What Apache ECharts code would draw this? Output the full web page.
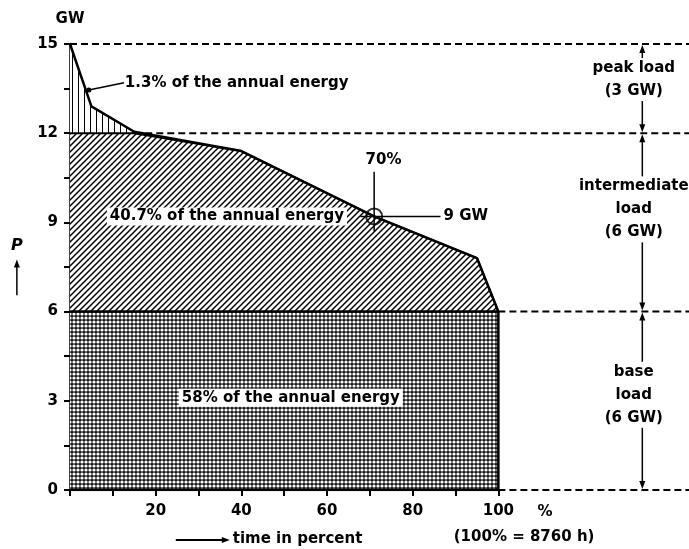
<!doctype html>
<html>
<head>
<meta charset="utf-8">
<script src="https://cdn.jsdelivr.net/npm/echarts@6/dist/echarts.min.js"></script>
<style>
    html, body {margin: 0; background: #fff;}
    #chart {width: 689px; height: 549px;}
</style>
</head>
<body>
<div id="chart"></div>
<script>
    // load duration curve (time in % of year, power in GW)
    var timePct = [0, 5, 15, 40, 71, 95, 100];
    var loadGW = [15, 12.9, 12.05, 11.4, 9.2, 7.8, 6.0];
    var baseGW = 6, intermediateTop = 12;
    var xTicks = [0, 10, 20, 30, 40, 50, 60, 70, 80, 90, 100];
    var xLabels = [20, 40, 60, 80, 100];
    var yTicks = [0, 1.5, 3, 4.5, 6, 7.5, 9, 10.5, 12, 13.5, 15];
    var yLabels = [0, 3, 6, 9, 12, 15];
    // dashed levels and where they start
    var levels = [15, 12, 6, 0];
    var levelFrom = [0, 15, 100, 100];
    var xMax = 144.5;

    var FONT = 'DejaVu Sans';
    var fontCss = 'bold 15px "' + FONT + '"';

    function pattern(w, h, draw) {
        var c = document.createElement('canvas');
        c.width = w; c.height = h;
        var ctx = c.getContext('2d');
        ctx.fillStyle = '#fff';
        ctx.fillRect(0, 0, w, h);
        draw(ctx);
        return {image: c, repeat: 'repeat'};
    }
    var vHatch = pattern(6, 4, function (ctx) {
        ctx.fillStyle = '#000';
        ctx.fillRect(0, 0, 1, 4);
    });
    var dHatch = pattern(6, 6, function (ctx) {
        ctx.strokeStyle = '#000';
        ctx.lineWidth = 1.5;
        ctx.beginPath();
        ctx.moveTo(-1, 7); ctx.lineTo(7, -1);
        ctx.moveTo(-1, 1); ctx.lineTo(1, -1);
        ctx.moveTo(5, 7); ctx.lineTo(7, 5);
        ctx.stroke();
    });
    var dots = pattern(4, 4, function (ctx) {
        ctx.fillStyle = '#1c1c1c';
        ctx.fillRect(0, 0, 4, 4);
        ctx.fillStyle = '#fff';
        ctx.beginPath();
        ctx.arc(2, 2, 1.6, 0, Math.PI * 2);
        ctx.fill();
    });

    function zip(a, b) {
        return a.map(function (v, i) { return [v, b[i]]; });
    }
    var curve = zip(timePct, loadGW);
    var capped = zip(timePct, loadGW.map(function (v) { return Math.min(v, intermediateTop); }));

    var series = [
        {type: 'line', data: curve, symbol: 'none', z: 1, lineStyle: {width: 0},
            areaStyle: {color: vHatch, opacity: 1}},
        {type: 'line', data: capped, symbol: 'none', z: 2, lineStyle: {width: 2, color: '#000'},
            areaStyle: {color: dHatch, opacity: 1}},
        {type: 'line', data: [[0, baseGW], [100, baseGW], [100, 0]], symbol: 'none', z: 3,
            lineStyle: {width: 2.5, color: '#000'}, areaStyle: {color: dots, opacity: 1}},
        {type: 'line', data: curve, symbol: 'none', z: 4, lineStyle: {width: 2.5, color: '#000'}},
        {type: 'line', data: [[0, 0], [100, 0]], symbol: 'none', z: 5, lineStyle: {width: 2.5, color: '#000'}},
        {type: 'scatter', data: [[71, 9.2]], symbol: 'circle', symbolSize: 16, z: 6,
            itemStyle: {color: 'rgba(0,0,0,0)', borderColor: '#000', borderWidth: 2}}
    ];
    levels.forEach(function (lv, i) {
        series.push({type: 'line', data: [[levelFrom[i], lv], [xMax, lv]], symbol: 'none', z: 5,
            lineStyle: {width: 2, color: '#000', type: [7, 4]}});
    });

    var myChart = echarts.init(document.getElementById('chart'));
    myChart.setOption({
        animation: false,
        grid: {left: 70, right: 0, top: 44, bottom: 59},
        xAxis: {
            type: 'value', min: 0, max: xMax,
            axisLine: {show: false},
            splitLine: {show: false},
            axisTick: {show: true, customValues: xTicks, length: 6, lineStyle: {color: '#000', width: 2}},
            axisLabel: {customValues: xLabels, margin: 14, color: '#000', fontFamily: FONT, fontWeight: 'bold', fontSize: 15}
        },
        yAxis: {
            type: 'value', min: 0, max: 15,
            name: 'GW', nameGap: 17,
            nameTextStyle: {color: '#000', fontFamily: FONT, fontWeight: 'bold', fontSize: 15},
            axisLine: {show: true, lineStyle: {color: '#000', width: 2.5}},
            splitLine: {show: false},
            axisTick: {show: true, customValues: yTicks, length: 6, lineStyle: {color: '#000', width: 2}},
            axisLabel: {customValues: yLabels, margin: 12, color: '#000', fontFamily: FONT, fontWeight: 'bold', fontSize: 15}
        },
        series: series
    });

    // annotations, placed in data coordinates
    function px(x, y) {
        return myChart.convertToPixel({gridIndex: 0}, [x, y]);
    }
    var g = [];
    function text(p, str, align, bg, style) {
        var s = {text: str, fill: '#000', font: fontCss, align: align || 'left', verticalAlign: 'middle'};
        if (bg) { s.backgroundColor = '#fff'; s.padding = [2, 3, 1, 3]; }
        if (style) { for (var k in style) s[k] = style[k]; }
        g.push({type: 'text', x: p[0], y: p[1], z: 100, style: s});
    }
    function line(a, b, w) {
        g.push({type: 'line', z: 100, shape: {x1: a[0], y1: a[1], x2: b[0], y2: b[1]},
            style: {stroke: '#000', lineWidth: w || 2}});
    }
    function arrow(p, dir) {
        var x = p[0], y = p[1], pts;
        if (dir === 'up') pts = [[x, y], [x - 3, y + 8], [x + 3, y + 8]];
        else if (dir === 'down') pts = [[x, y], [x - 3, y - 8], [x + 3, y - 8]];
        else pts = [[x, y], [x - 8, y - 3], [x - 8, y + 3]];
        g.push({type: 'polygon', z: 100, shape: {points: pts}, style: {fill: '#000'}});
    }

    // peak share label with pointer
    var dot = px(4.4, 13.45);
    g.push({type: 'circle', z: 100, shape: {cx: dot[0], cy: dot[1], r: 2.5}, style: {fill: '#000'}});
    line(dot, px(12.6, 13.7), 1.5);
    text(px(12.8, 13.7), '1.3% of the annual energy');
    text(px(8.6, 9.2), '40.7% of the annual energy', 'left', true);
    text(px(25.4, 3.1), '58% of the annual energy', 'left', true);

    // 70 % / 9 GW marker
    line(px(71, 10.7), px(71, 8.7), 1.5);
    line(px(67.8, 9.2), px(86.5, 9.2), 1.5);
    text(px(73.2, 11.1), '70%', 'center');
    text(px(87.2, 9.22), '9 GW');

    // x axis extras
    text(px(110.9, -0.75), '%', 'center');
    text(px(106, -1.6), '(100% = 8760 h)', 'center');
    text(px(38.0, -1.65), 'time in percent');
    line(px(24.7, -1.68), px(36, -1.68), 2);
    arrow(px(37.3, -1.68), 'right');

    // y axis P with arrow
    text(px(-12.4, 8.2), 'P', 'center', false, {font: 'italic bold 16px "' + FONT + '"'});
    var pa = px(-12.4, 7.75), pb = px(-12.4, 6.55);
    arrow(pa, 'up');
    line([pa[0], pa[1] + 6], pb, 1.5);

    // right hand bands
    var bands = [
        {top: 15, bottom: 12, lines: ['peak load', '(3 GW)'], shift: 9},
        {top: 12, bottom: 6, lines: ['intermediate', 'load', '(6 GW)'], shift: 13},
        {top: 6, bottom: 0, lines: ['base', 'load', '(6 GW)'], shift: 6}
    ];
    var bandX = 133.6, labelX = 131.6;
    bands.forEach(function (b) {
        var t = px(bandX, b.top), bt = px(bandX, b.bottom);
        var lx = px(labelX, 0)[0];
        var lh = 23;
        var mid = (t[1] + bt[1]) / 2 - b.shift;
        var first = mid - lh * (b.lines.length - 1) / 2;
        b.lines.forEach(function (s, i) {
            text([lx, first + i * lh], s, 'center');
        });
        var blockTop = first - 10, blockBot = first + lh * (b.lines.length - 1) + 10;
        arrow([t[0], t[1] + 1], 'up');
        line([t[0], t[1] + 6], [t[0], blockTop], 1.5);
        line([t[0], blockBot], [t[0], bt[1] - 6], 1.5);
        arrow([t[0], bt[1] - 1], 'down');
    });

    myChart.setOption({graphic: g});
</script>
</body>
</html>
